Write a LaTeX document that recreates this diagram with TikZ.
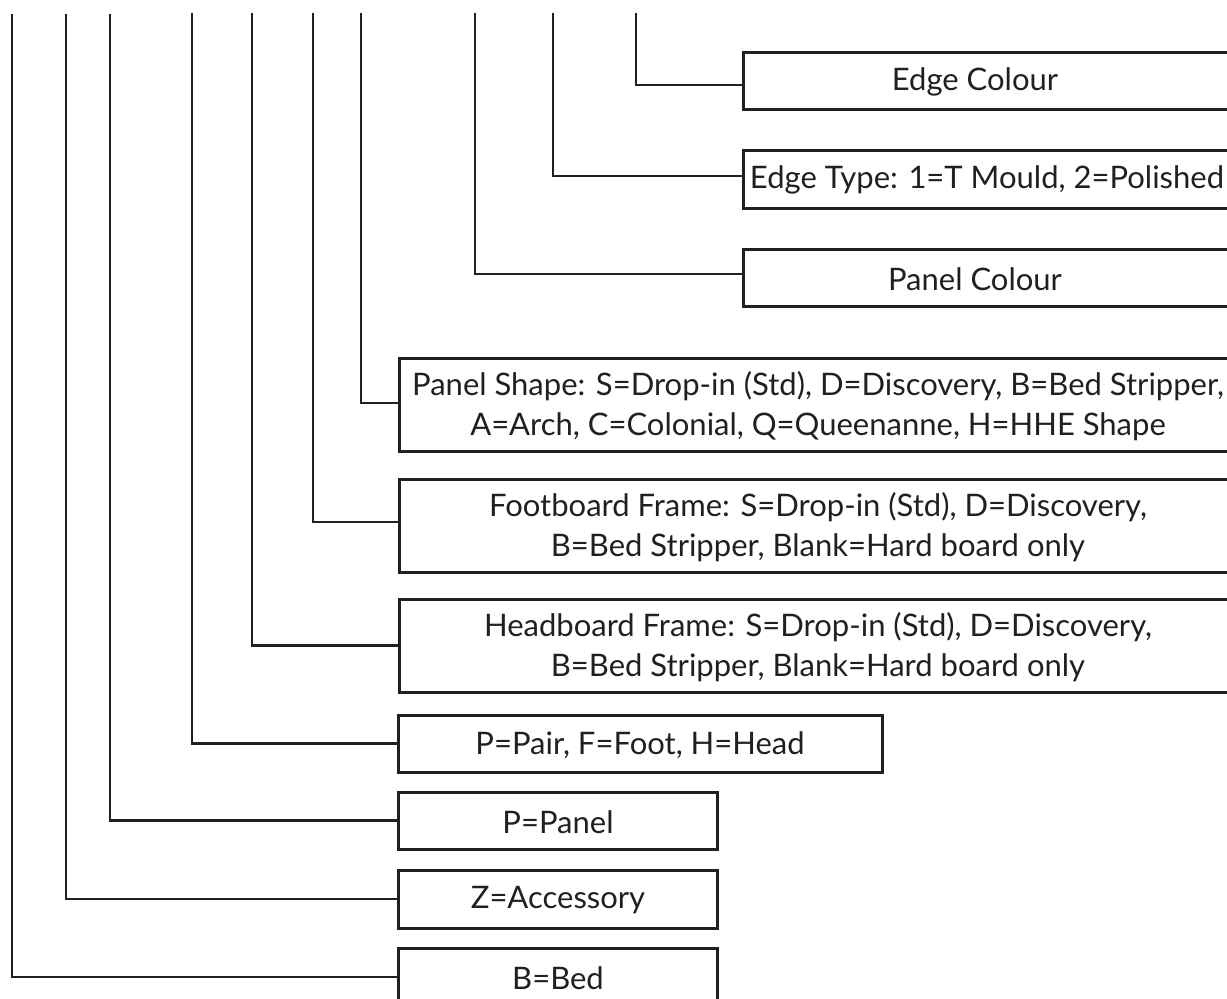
\documentclass[tikz,border=0pt]{standalone}
\usepackage{fontspec}
\setmainfont{Lato}
\definecolor{ink}{HTML}{231F20}
\begin{document}
\begin{tikzpicture}[x=1pt,y=-1pt,
  box/.style={draw=ink, line width=3pt, rectangle, inner sep=0pt, outer sep=0pt, anchor=north west},
  lbl/.style={font=\fontsize{31}{40}\selectfont, text=ink, align=center, inner sep=0pt},
  conn/.style={draw=ink, line width=2.8pt}]
\useasboundingbox (0,0) rectangle (1227,999);
% boxes
\node[box, minimum width=520pt, minimum height=57pt] (b1) at (743,52) {};
\node[box, minimum width=520pt, minimum height=58pt] (b2) at (743,150) {};
\node[box, minimum width=520pt, minimum height=57pt] (b3) at (743,249) {};
\node[box, minimum width=840pt, minimum height=93pt] (b4) at (399,358) {};
\node[box, minimum width=840pt, minimum height=93pt] (b5) at (399,479) {};
\node[box, minimum width=840pt, minimum height=93pt] (b6) at (399,599) {};
\node[box, minimum width=484pt, minimum height=57pt] (b7) at (398,715) {};
\node[box, minimum width=319pt, minimum height=57pt] (b8) at (398,792) {};
\node[box, minimum width=319pt, minimum height=58pt] (b9) at (398,870) {};
\node[box, minimum width=319pt, minimum height=58pt] (b10) at (398,948) {};
% labels
\node[lbl] (l1) at (975,82) {Edge Colour};
\node[lbl] (l2) at (987,180) {Edge Type: 1=T Mould, 2=Polished};
\node[lbl] (l3) at (975,279) {Panel Colour};
\node[lbl] (l4) at (818,406) {Panel Shape: S=Drop-in (Std), D=Discovery, B=Bed Stripper,\\A=Arch, C=Colonial, Q=Queenanne, H=HHE Shape};
\node[lbl] (l5) at (818,527) {Footboard Frame: S=Drop-in (Std), D=Discovery,\\B=Bed Stripper, Blank=Hard board only};
\node[lbl] (l6) at (818,647) {Headboard Frame: S=Drop-in (Std), D=Discovery,\\B=Bed Stripper, Blank=Hard board only};
\node[lbl] (l7) at (640,745) {P=Pair, F=Foot, H=Head};
\node[lbl] (l8) at (558,822) {P=Panel};
\node[lbl] (l9) at (558,900) {Z=Accessory};
\node[lbl] (l10) at (558,978) {B=Bed};
% connector starts
\coordinate (s1) at (636,13);
\coordinate (s2) at (553,13);
\coordinate (s3) at (475,13);
\coordinate (s4) at (361,13);
\coordinate (s5) at (313,13);
\coordinate (s6) at (252,13);
\coordinate (s7) at (192,13);
\coordinate (s8) at (110,14);
\coordinate (s9) at (66,14);
\coordinate (s10) at (12,14);
% connectors
\draw[conn] (s1) |- ([yshift=-4.5pt]b1.west);
\draw[conn] (s2) |- ([yshift=3pt]b2.west);
\draw[conn] (s3) |- ([yshift=3.5pt]b3.west);
\draw[conn] (s4) |- ([yshift=1.5pt]b4.west);
\draw[conn] (s5) |- ([yshift=3.5pt]b5.west);
\draw[conn] (s6) |- (b6.west);
\draw[conn] (s7) |- (b7.west);
\draw[conn] (s8) |- (b8.west);
\draw[conn] (s9) |- (b9.west);
\draw[conn] (s10) |- (b10.west);
\end{tikzpicture}
\end{document}
